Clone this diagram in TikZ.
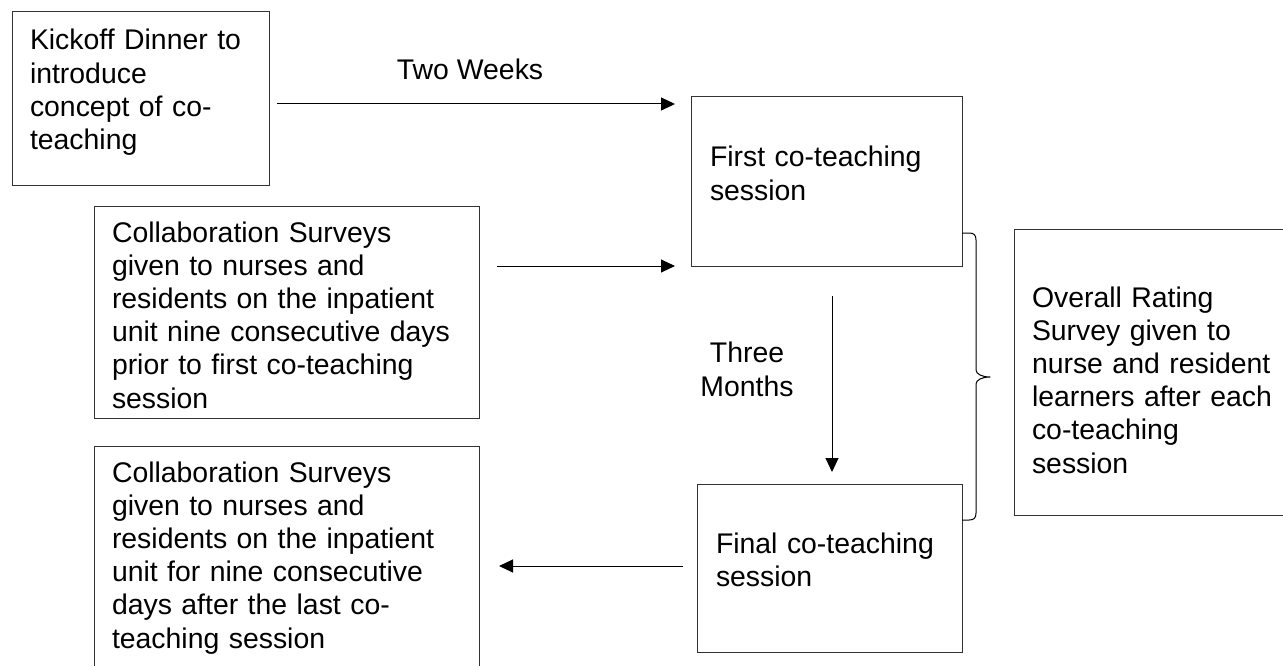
\documentclass[tikz,border=0pt]{standalone}
\usepackage{fontspec}
\setmainfont{Liberation Sans}
\usetikzlibrary{arrows.meta}
\definecolor{frame}{HTML}{333333}

\begin{document}
\begin{tikzpicture}[x=1pt,y=-1pt,
    font=\fontsize{28.4}{33.2}\selectfont,
    box/.style={draw=frame,line width=1pt,inner xsep=18pt,inner ysep=0pt,
      outer sep=0pt,align=left,anchor=north west},
    arr/.style={-{Triangle[length=14pt,width=13pt]},line width=1pt}]
        \useasboundingbox (0,0) rectangle (1283,666);

        \path
        (12,12) node[box,text width=221pt,text height=38pt,text depth=136pt] (kick)
          {Kickoff Dinner to\\introduce\\concept of co-\\teaching}
        (94,206) node[box,text width=349pt,text height=36pt,text depth=176pt] (coll1)
          {Collaboration Surveys\\given to nurses and\\residents on the inpatient\\unit nine consecutive days\\prior to first co-teaching\\session}
        (94,446) node[box,text width=349pt,text height=36pt,text depth=204pt] (coll2)
          {Collaboration Surveys\\given to nurses and\\residents on the inpatient\\unit for nine consecutive\\days after the last co-\\teaching session}
        ;

        \path
        (691,97) node[box,inner xsep=19pt,text width=233pt,text height=70pt,text depth=99pt] (first)
          {First co-teaching\\session}
        (697,484) node[box,inner xsep=19pt,text width=227pt,text height=69pt,text depth=99pt] (final)
          {Final co-teaching\\session}
        (1014,229) node[box,text width=244pt,text height=78pt,text depth=208pt] (overall)
          {Overall Rating\\Survey given to\\nurse and resident\\learners after each\\co-teaching\\session}
        ;

        \draw[arr] ([xshift=8pt,yshift=-5pt]kick.east)
          -- node[pos=0.485,anchor=base,inner sep=0pt,yshift=24pt] (twowk) {Two Weeks}
          ([xshift=-16pt,yshift=-5pt]kick.east -| first.west);
        \draw[arr] ([xshift=18pt]coll1.east |- first.south west)
          -- ([xshift=-16pt]first.south west);
        \draw[arr] ([xshift=5.5pt,yshift=-30pt]first.south)
          -- node[pos=0.38,anchor=base,inner sep=0pt,xshift=-85pt,text width=130pt,align=center] (three) {Three\\Months}
          ([xshift=2.5pt,yshift=12pt]final.north);
        \draw[arr] ([xshift=-14pt]final.west |- coll2.east)
          -- ([xshift=20pt]coll2.east);

        % brace between the two sessions
        \coordinate (btop) at ([yshift=33pt]first.south east);
        \coordinate (bbot) at ([yshift=-36pt]final.north east);
        \draw[line width=1pt,line join=round]
          (btop) -- ++(7,0) .. controls +(5,0) and +(0,-5) .. ++(7,7)
          -- ++(0,130) .. controls +(0,4) and +(-8,0) .. ++(14,7)
          .. controls +(-8,0) and +(0,-4) .. ++(-14,7)
          -- ([xshift=14pt,yshift=7pt]bbot) .. controls +(0,5) and +(5,0) .. ([xshift=7pt]bbot)
          -- (bbot);
      \end{tikzpicture}
\end{document}
